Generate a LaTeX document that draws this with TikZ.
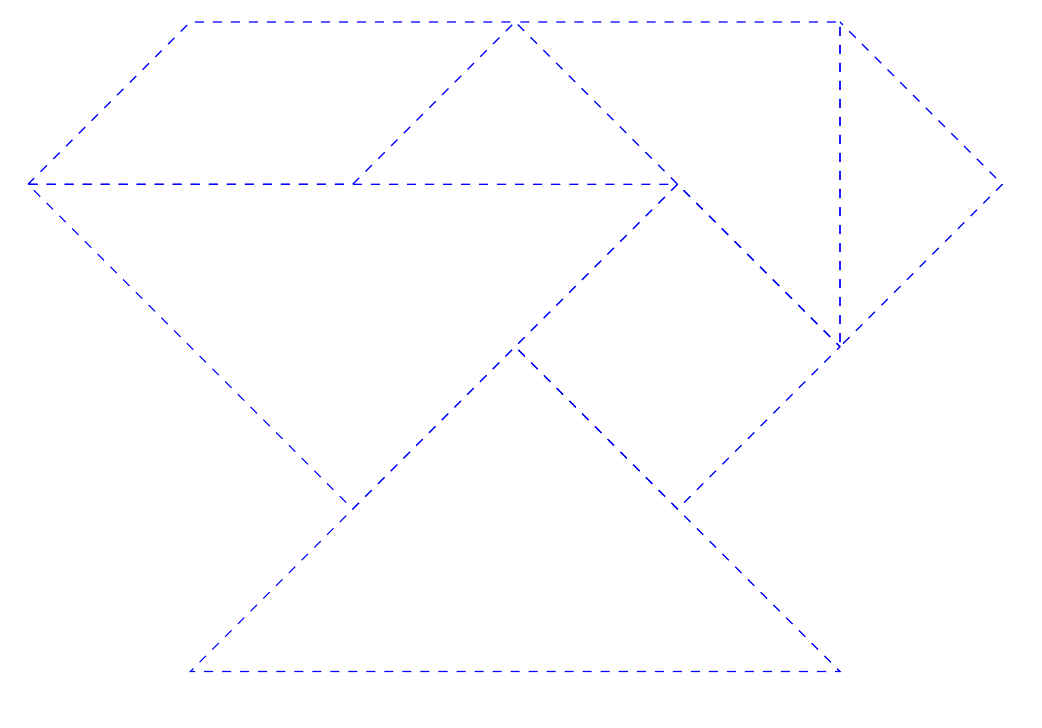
\documentclass[tikz,border=0pt]{standalone}
\begin{document}
\begin{tikzpicture}[x=1.9cm,y=1.9cm]
\useasboundingbox (-0.172,-0.345) rectangle (6.244,4.135);
\tikzset{piece/.style={draw=blue,dashed}}

\coordinate (a) at (0,3);
\coordinate (b) at (1,4);
\coordinate (c) at (3,4);
\coordinate (d) at (2,3);
\coordinate (e) at (4,3);
\coordinate (f) at (2,1);
\coordinate (g) at (5,4);
\coordinate (h) at (5,2);
\coordinate (i) at (6,3);
\coordinate (j) at (4,1);
\coordinate (k) at (3,2);
\coordinate (l) at (1,0);
\coordinate (m) at (5,0);

% phases chosen so shared edges line up
\draw[piece,dash phase=5.811pt] (a) -- (d) -- (c) -- (b) -- cycle;
\draw[piece] (e) -- (f) -- (a) -- cycle;
\draw[piece,dash phase=1.358pt] (h) -- (c) -- (g) -- cycle;
\draw[piece,dash phase=4.383pt] (g) -- (h) -- (i) -- cycle;
\draw[piece] (e) -- (k) -- (j) -- (h) -- cycle;
\draw[piece,dash phase=4.453pt] (k) -- (m) -- (l) -- cycle;
\end{tikzpicture}
\end{document}
